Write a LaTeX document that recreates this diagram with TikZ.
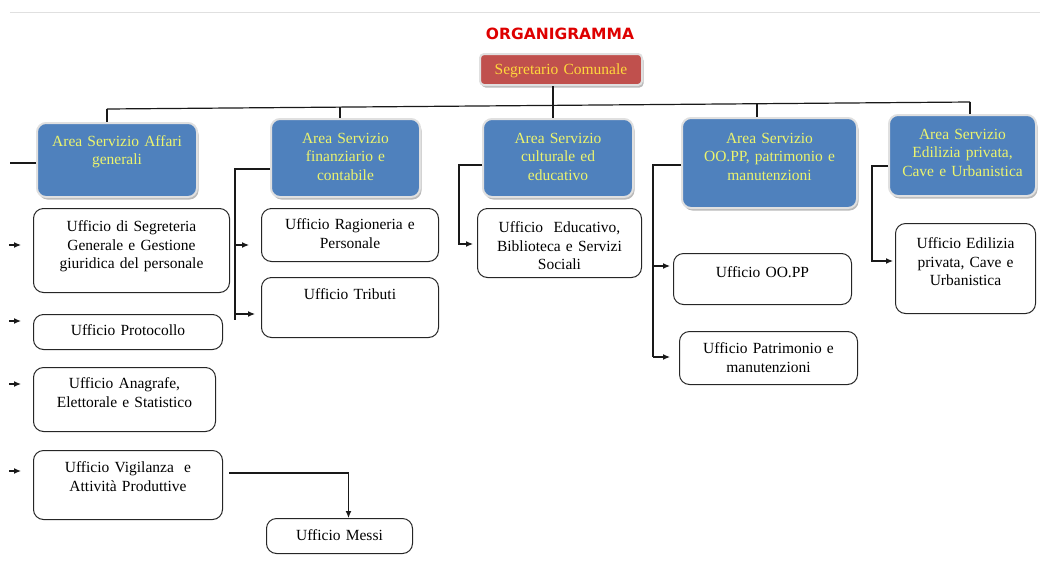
\documentclass[tikz,border=0pt]{standalone}
\usepackage{fontspec}
\setmainfont{Liberation Serif}
\newfontfamily\titolofont{DejaVu Sans}
\usepackage{xcolor}
\usetikzlibrary{arrows.meta,shadows}

\definecolor{areablu}{RGB}{79,129,189}
\definecolor{areatesto}{RGB}{236,244,110}
\definecolor{segrosso}{RGB}{192,80,77}
\definecolor{segtesto}{RGB}{255,216,60}
\definecolor{titrosso}{RGB}{222,0,0}

\newcommand{\testo}{\fontsize{15.5}{18.7}\selectfont}

\begin{document}
\begin{tikzpicture}[x=1pt, y=-1pt,
    casella/.style={anchor=north west, inner sep=0pt, align=center, font=\testo},
    area/.style={casella, fill=areablu, draw=black!12, line width=2pt, rounded corners=9pt, text=areatesto,
                 drop shadow={shadow xshift=1.5pt, shadow yshift=-2.5pt, opacity=.45, fill=black!60}},
    ufficio/.style={casella, fill=white, draw=black!85, line width=1pt, rounded corners=10pt},
    linea/.style={black!90, line width=1.2pt},
    freccia/.style={linea, -{Latex[length=7pt,width=6pt]}}]
             \useasboundingbox (0,0) rectangle (1051,576);
             \draw[black!12] (10,12) -- (1040,12);

             \node[font=\titolofont\bfseries\fontsize{15.5}{18}\selectfont, text=titrosso] (tit) at (560,34) {ORGANIGRAMMA};
             \node[area, fill=segrosso, text=segtesto, rounded corners=4pt, text width=162pt, text height=20pt, text depth=11pt] (seg) at (479,53) {Segretario Comunale};

             \node[area, text width=160pt, text height=23pt, text depth=51pt] (aff) at (36,122) {Area Servizio Affari\\generali};
             \node[area, text width=149pt, text height=24pt, text depth=54pt] (fin) at (270,118) {Area Servizio\\finanziario e\\contabile};
             \node[area, text width=150pt, text height=24pt, text depth=54pt] (cult) at (482,118) {Area Servizio\\culturale ed\\educativo};
             \node[area, text width=175pt, text height=25pt, text depth=65pt] (oopp) at (681,117) {Area Servizio\\OO.PP, patrimonio e\\manutenzioni};
             \node[area, text width=147pt, text height=24pt, text depth=57pt] (edil) at (888,114) {Area Servizio\\Edilizia privata,\\Cave e Urbanistica};

             \node[ufficio, text width=196pt, text height=23pt, text depth=61pt] (sg) at (33,208) {Ufficio di Segreteria\\Generale e Gestione\\giuridica del personale};
             \node[ufficio, text width=189pt, text height=21pt, text depth=14pt] (prot) at (33,314) {Ufficio Protocollo};
             \node[ufficio, text width=182pt, text height=21pt, text depth=43pt] (anag) at (33,367) {Ufficio Anagrafe,\\Elettorale e Statistico};
             \node[ufficio, text width=189pt, text height=22pt, text depth=47pt] (vig) at (33,450) {Ufficio Vigilanza~ e\\Attività Produttive};
             \node[ufficio, text width=146pt, text height=22pt, text depth=13pt] (messi) at (266,518) {Ufficio Messi};

             \node[ufficio, text width=177pt, text height=21pt, text depth=32pt] (rag) at (261,208) {Ufficio Ragioneria e\\Personale};
             \node[ufficio, text width=177pt, text height=22pt, text depth=38pt] (trib) at (261,277) {Ufficio Tributi};

             \node[ufficio, text width=164pt, text height=24pt, text depth=45pt] (edu) at (477,208) {Ufficio~ Educativo,\\Biblioteca e Servizi\\Sociali};

             \node[ufficio, text width=178pt, text height=24pt, text depth=27pt] (uoo) at (673,253) {Ufficio OO.PP};
             \node[ufficio, text width=178pt, text height=22pt, text depth=31pt] (pat) at (679,331) {Ufficio Patrimonio e\\manutenzioni};

             \node[ufficio, text width=140pt, text height=25pt, text depth=65pt] (uedi) at (895,223) {Ufficio Edilizia\\privata, Cave e\\Urbanistica};

             \coordinate (b1) at (107,109);
             \coordinate (b2) at (340,107);
             \coordinate (b3) at (553,105.5);
             \coordinate (b4) at (757,104);
             \coordinate (b5) at (970,102);
             \draw[linea] (b1) -- (b5);
             \draw[linea] (b1) -- (b1 |- aff.north);
             \draw[linea] (b2) -- (b2 |- fin.north);
             \draw[linea] (seg.south -| b3) -- (b3 |- cult.north);
             \draw[linea] (b4) -- (b4 |- oopp.north);
             \draw[linea] (b5) -- (b5 |- edil.north);

             \coordinate (tA) at (10,163);
             \draw[linea] (aff.west |- tA) -- (tA);
             \coordinate (a1) at (9,245);
             \coordinate (a2) at (9,321);
             \coordinate (a3) at (9,384);
             \coordinate (a4) at (9,471);
             \draw[freccia, shorten >=12pt] (a1) -- (a1 -| sg.west);
             \draw[freccia, shorten >=12pt] (a2) -- (a2 -| prot.west);
             \draw[freccia, shorten >=12pt] (a3) -- (a3 -| anag.west);
             \draw[freccia, shorten >=12pt] (a4) -- (a4 -| vig.west);
             \coordinate (v1) at (229,473);
             \draw[freccia] (v1) -| ([xshift=9pt]messi.north);

             \coordinate (tF) at (235,169);
             \coordinate (tFb) at (235,320);
             \coordinate (f1) at (235,245);
             \coordinate (f2) at (235,314);
             \draw[linea] (fin.west |- tF) -- (tF) -- (tFb);
             \draw[freccia, shorten >=12pt] (f1) -- (f1 -| rag.west);
             \draw[freccia, shorten >=6pt] (f2) -- (f2 -| trib.west);

             \coordinate (tC) at (459,165);
             \coordinate (c1) at (459,244);
             \draw[freccia, shorten >=4pt] (cult.west |- tC) -- (tC) -- (c1) -- (c1 -| edu.west);

             \coordinate (tO) at (653,165);
             \coordinate (o1) at (653,266);
             \coordinate (o2) at (653,357);
             \draw[linea] (oopp.west |- tO) -- (tO) -- (o2);
             \draw[freccia, shorten >=3pt] (o1) -- (o1 -| uoo.west);
             \draw[freccia, shorten >=9pt] (o2) -- (o2 -| pat.west);

             \coordinate (tE) at (872,166);
             \coordinate (e1) at (872,261);
             \draw[freccia, shorten >=2pt] (edil.west |- tE) -- (tE) -- (e1) -- (e1 -| uedi.west);
\end{tikzpicture}
\end{document}
